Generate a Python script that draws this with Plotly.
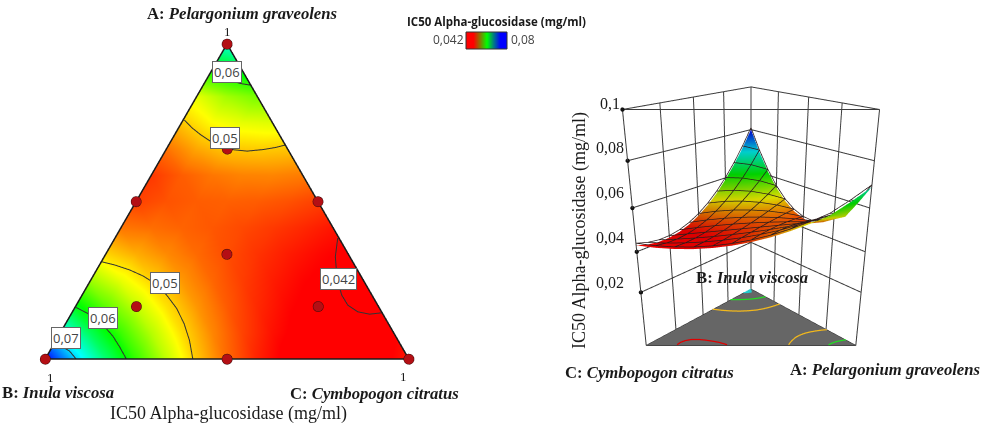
import plotly.graph_objects as go

# ===== data =====
# response on a ternary lattice, row = A in twelfths, entries go B = 0 .. 12 - row
ic50_rows = [
    [.0430, .04135, .04056, .04063, .04156, .04335, .0460, .04951, .05389, .05913, .06522, .07218, .0800],
    [.04186, .04105, .04092, .04146, .04268, .04457, .04714, .05038, .05431, .0589, .06418, .07013],
    [.04128, .04113, .04146, .04229, .04361, .04542, .04772, .05051, .0538, .05757, .06183],
    [.04125, .04157, .04219, .04313, .04436, .0459, .04775, .0499, .05236, .05513],
    [.04178, .04238, .04311, .04396, .04493, .04601, .04722, .04855, .0500],
    [.04286, .04357, .04421, .04479, .04531, .04575, .04614, .04646],
    [.0445, .04513, .0455, .04563, .0455, .04513, .0445],
    [.04669, .04705, .04697, .04646, .04551, .04413],
    [.0495, .0497, .0495, .0483, .0463],
    [.0528, .0525, .0515, .0495],
    [.05661, .05505, .0525],
    [.0625, .0605],
    [.0690],
]

# contour lines as (A, C) fractions
c042_a = [.3836, .3252, .2827, .2402, .2030, .1711, .1498, .1424, .1466]
c042_c = [.6126, .6354, .6594, .6862, .7140, .7466, .7849, .8209, .8511]
c05_top_a = [.7588, .7343, .7131, .6918, .6759, .6642, .6599, .6652, .6716, .6791]
c05_top_c = [.0034, .0360, .0696, .1080, .1435, .1864, .2254, .2689, .2980, .3200]
c06_top_a = [.9203, .9044, .8906, .8810, .8746, .8693]
c06_top_c = [.0011, .0293, .0547, .0780, .0996, .1300]
c05_low_a = [.309, .2986, .2827, .2635, .2402, .203, .1605, .1126, .0595, 0]
c05_low_c = [0, .0417, .0911, .1376, .1816, .2325, .2814, .3256, .367, .406]
c06_low_a = [.1637, .1445, .1233, .0967, .0723, .0383, 0]
c06_low_c = [.0030, .0450, .0832, .1195, .1502, .1857, .2232]
c07_low_a = [.038, .0255, 0]
c07_low_c = [.029, .054, .085]

# design points as (A, C)
design_a = [1, 0, 0, .5, .5, 0, .333, .667, .167, .167]
design_c = [0, 0, 1, 0, .5, .5, .333, .167, .167, .667]

z_ticks = [.02, .04, .06, .08, .1]
z_tick_text = ['0,02', '0,04', '0,06', '0,08', '0,1']
wall_fracs = [0, .25, .5, .75, 1]
legend_vals = [.042, .061, .08]

Z_FLOOR = -.0085
rainbow = [[0, '#ff0000'], [.25, '#ffff00'], [.5, '#00ff00'], [.75, '#00ffff'], [1, '#0000ff']]
SERIF = 'Liberation Serif'
SANS = 'Open Sans'


def flat_xy(a, c):
    return c + a / 2, a * .866


# ===== lattice -> vertices and triangles =====
N = 12
index = {}
lat_a, lat_b, lat_c, lat_z = [], [], [], []
for row, vals in enumerate(ic50_rows):
    for b, val in enumerate(vals):
        index[(row, b)] = len(lat_z)
        lat_a.append(row / N)
        lat_b.append(b / N)
        lat_c.append((N - row - b) / N)
        lat_z.append(val)

tri_i, tri_j, tri_k = [], [], []
for row in range(N):
    for b in range(N - row):
        tri_i.append(index[(row, b)])
        tri_j.append(index[(row, b + 1)])
        tri_k.append(index[(row + 1, b)])
        if b < N - row - 1:
            tri_i.append(index[(row, b + 1)])
            tri_j.append(index[(row + 1, b + 1)])
            tri_k.append(index[(row + 1, b)])

contours = [
    (c042_a, c042_c, '#e00000'), (c05_top_a, c05_top_c, '#f2b81c'), (c06_top_a, c06_top_c, '#22dd22'),
    (c05_low_a, c05_low_c, '#f2b81c'), (c06_low_a, c06_low_c, '#22dd22'), (c07_low_a, c07_low_c, '#22cccc'),
]

fig = go.Figure()

# ===== left: flat ternary map =====
flat_x = [flat_xy(a, c)[0] for a, c in zip(lat_a, lat_c)]
flat_y = [flat_xy(a, c)[1] for a, c in zip(lat_a, lat_c)]
fig.add_trace(go.Mesh3d(x=flat_x, y=flat_y, z=[0] * len(flat_x), i=tri_i, j=tri_j, k=tri_k,
                        intensity=lat_z, cmin=.042, cmax=.08, colorscale=rainbow, showscale=False,
                        lighting=dict(ambient=1, diffuse=0, specular=0, roughness=1, fresnel=0),
                        hoverinfo='skip', scene='scene'))
for ca, cc, _ in contours:
    pts = [flat_xy(a, c) for a, c in zip(ca, cc)]
    fig.add_trace(go.Scatter3d(x=[p[0] for p in pts], y=[p[1] for p in pts], z=[.01] * len(pts), mode='lines',
                               line=dict(color='#333333', width=2), hoverinfo='skip', scene='scene'))
fig.add_trace(go.Scatter3d(x=[0, .5, 1, 0], y=[0, .866, 0, 0], z=[.01] * 4, mode='lines',
                           line=dict(color='#1a1a1a', width=3), hoverinfo='skip', scene='scene'))
pts = [flat_xy(a, c) for a, c in zip(design_a, design_c)]
fig.add_trace(go.Scatter3d(x=[p[0] for p in pts], y=[p[1] for p in pts], z=[.02] * len(pts), mode='markers',
                           marker=dict(size=6, color='#b40f14', line=dict(color='#3a0a0a', width=1)),
                           hoverinfo='skip', scene='scene'))

# ===== right: 3D surface, x runs B -> C and y runs B -> A =====
fig.add_trace(go.Mesh3d(x=lat_c, y=lat_a, z=lat_z, i=tri_i, j=tri_j, k=tri_k,
                        intensity=lat_z, cmin=.042, cmax=.08, colorscale=rainbow, showscale=False,
                        lighting=dict(ambient=.8, diffuse=.2, specular=0, roughness=1, fresnel=0),
                        hoverinfo='skip', scene='scene2'))

# mesh lines on the surface: lines of constant A and constant B, plus the far edge
LIFT = .001
mx, my, mz = [], [], []
for row in range(0, N):
    for b in range(N - row + 1):
        n = index[(row, b)]
        mx.append(lat_c[n]); my.append(lat_a[n]); mz.append(lat_z[n] + LIFT)
    mx.append(None); my.append(None); mz.append(None)
for b in range(0, N):
    for row in range(N - b + 1):
        n = index[(row, b)]
        mx.append(lat_c[n]); my.append(lat_a[n]); mz.append(lat_z[n] + LIFT)
    mx.append(None); my.append(None); mz.append(None)
for row in range(N + 1):
    n = index[(row, N - row)]
    mx.append(lat_c[n]); my.append(lat_a[n]); mz.append(lat_z[n] + LIFT)
fig.add_trace(go.Scatter3d(x=mx, y=my, z=mz, mode='lines', line=dict(color='#2a1c1c', width=1.5),
                           hoverinfo='skip', scene='scene2'))

# walls
wx, wy, wz = [], [], []
for f in wall_fracs:
    wx += [f, f, None, 0, 0, None]
    wy += [0, 0, None, f, f, None]
    wz += [Z_FLOOR, .1, None, Z_FLOOR, .1, None]
for t in z_ticks:
    wx += [1, 0, 0, None]
    wy += [0, 0, 1, None]
    wz += [t, t, t, None]
wx += [1, 0, None]
wy += [0, 1, None]
wz += [.1, .1, None]
fig.add_trace(go.Scatter3d(x=wx, y=wy, z=wz, mode='lines', line=dict(color='#3c3c3c', width=2),
                           hoverinfo='skip', scene='scene2'))
fig.add_trace(go.Scatter3d(x=[1] * 5, y=[0] * 5, z=z_ticks, mode='markers', marker=dict(size=2.5, color='#111111'),
                           hoverinfo='skip', scene='scene2'))

# floor triangle with projected contours and the small cyan patch at the B corner
fig.add_trace(go.Mesh3d(x=[0, 1, 0], y=[0, 0, 1], z=[Z_FLOOR] * 3, i=[0], j=[1], k=[2], color='#666666',
                        lighting=dict(ambient=1, diffuse=0, specular=0), hoverinfo='skip', scene='scene2'))
fig.add_trace(go.Mesh3d(x=[0] + c07_low_c, y=[0] + c07_low_a, z=[Z_FLOOR + .0003] * 4, i=[0, 0], j=[1, 2], k=[2, 3],
                        color='#22cccc', lighting=dict(ambient=1, diffuse=0, specular=0), hoverinfo='skip',
                        scene='scene2'))
fig.add_trace(go.Scatter3d(x=[0, 1, 0, 0], y=[0, 0, 1, 0], z=[Z_FLOOR] * 4, mode='lines',
                           line=dict(color='#222222', width=1.5), hoverinfo='skip', scene='scene2'))
for ca, cc, col in contours:
    fig.add_trace(go.Scatter3d(x=cc, y=ca, z=[Z_FLOOR + .0003] * len(ca), mode='lines',
                               line=dict(color=col, width=2.5), hoverinfo='skip', scene='scene2'))

# ===== colour key =====
fig.add_trace(go.Heatmap(z=[legend_vals], zsmooth='best', showscale=False, hoverinfo='skip',
                         colorscale=[[0, '#ff0000'], [.5, '#00ff00'], [1, '#0000ff']], xaxis='x', yaxis='y'))


# ===== text =====
def note(px, py, text, size, font=SERIF, color='#1a1a1a', **kw):
    return dict(x=px / 982, y=1 - py / 424, xref='paper', yref='paper', text=text, showarrow=False,
                font=dict(family=font, size=size, color=color), xanchor='center', yanchor='middle', **kw)


def box(px, py, text):
    return note(px, py, text, 13, font=SANS, color='#444444', bgcolor='white', bordercolor='#666666',
                borderwidth=1, borderpad=1)


notes = [
    note(242, 13, '<b>A: <i>Pelargonium graveolens</i></b>', 16.7),
    note(227, 32, '1', 13), note(50, 377, '1', 13), note(403, 376, '1', 13),
    note(58, 392, '<b>B: <i>Inula viscosa</i></b>', 16.7),
    note(374, 393, '<b>C: <i>Cymbopogon citratus</i></b>', 16.7),
    note(228, 413, 'IC50 Alpha-glucosidase (mg/ml)', 18),
    box(227, 72, '0,06'), box(225, 138, '0,05'), box(165, 283, '0,05'),
    box(103, 318, '0,06'), box(66, 338, '0,07'), box(338, 279, '0,042'),
    note(496, 21, '<b>IC50 Alpha-glucosidase (mg/ml)</b>', 11.5, font=SANS),
    note(448, 40, '0,042', 12, font=SANS, color='#444444'),
    note(523, 40, '0,08', 12, font=SANS, color='#444444'),
    note(580, 231, 'IC50 Alpha-glucosidase (mg/ml)', 18, textangle=-90),
    note(752, 277, '<b>B: <i>Inula viscosa</i></b>', 16.7),
    note(649, 372, '<b>C: <i>Cymbopogon citratus</i></b>', 16.7),
    note(885, 369, '<b>A: <i>Pelargonium graveolens</i></b>', 16.7),
]
for lab, ty in zip(z_tick_text, [282, 237, 192, 147, 103]):
    notes.append(note(610, ty, lab, 16))

hidden = dict(visible=False, showgrid=False, zeroline=False, showticklabels=False, showspikes=False)
fig.update_layout(
    width=982, height=424, margin=dict(l=0, r=0, t=0, b=0), paper_bgcolor='white', plot_bgcolor='white',
    showlegend=False, annotations=notes,
    xaxis=dict(domain=[466 / 982, 507 / 982], visible=False),
    yaxis=dict(domain=[1 - 49 / 424, 1 - 32 / 424], visible=False),
    shapes=[dict(type='rect', xref='paper', yref='paper', x0=466 / 982, x1=507 / 982, y0=1 - 49 / 424, y1=1 - 32 / 424,
                 line=dict(color='#333333', width=1))],
    scene=dict(domain=dict(x=[0, .4623], y=[.05, 1]), bgcolor='white',
               xaxis=dict(range=[-.05, 1.05], **hidden), yaxis=dict(range=[-.05, .916], **hidden),
               zaxis=dict(range=[-1, 1], **hidden),
               aspectmode='manual', aspectratio=dict(x=1.985, y=1.744, z=.18),
               camera=dict(eye=dict(x=0, y=0, z=.78), up=dict(x=0, y=1, z=0),
                           center=dict(x=0, y=0, z=0), projection=dict(type='orthographic'))),
    scene2=dict(domain=dict(x=[.53, 1], y=[0, 1]), bgcolor='rgba(0,0,0,0)',
                xaxis=dict(range=[-.01, 1.01], **hidden), yaxis=dict(range=[-.01, 1.01], **hidden),
                zaxis=dict(range=[Z_FLOOR - .001, .101], **hidden),
                aspectmode='manual', aspectratio=dict(x=1, y=1, z=1.595),
                camera=dict(eye=dict(x=1.945, y=1.945, z=1.38), center=dict(x=0, y=0, z=.18), up=dict(x=0, y=0, z=1))),
)

fig.write_html("out.html", post_script="document.body.style.margin='0';", config=dict(displayModeBar=False))
